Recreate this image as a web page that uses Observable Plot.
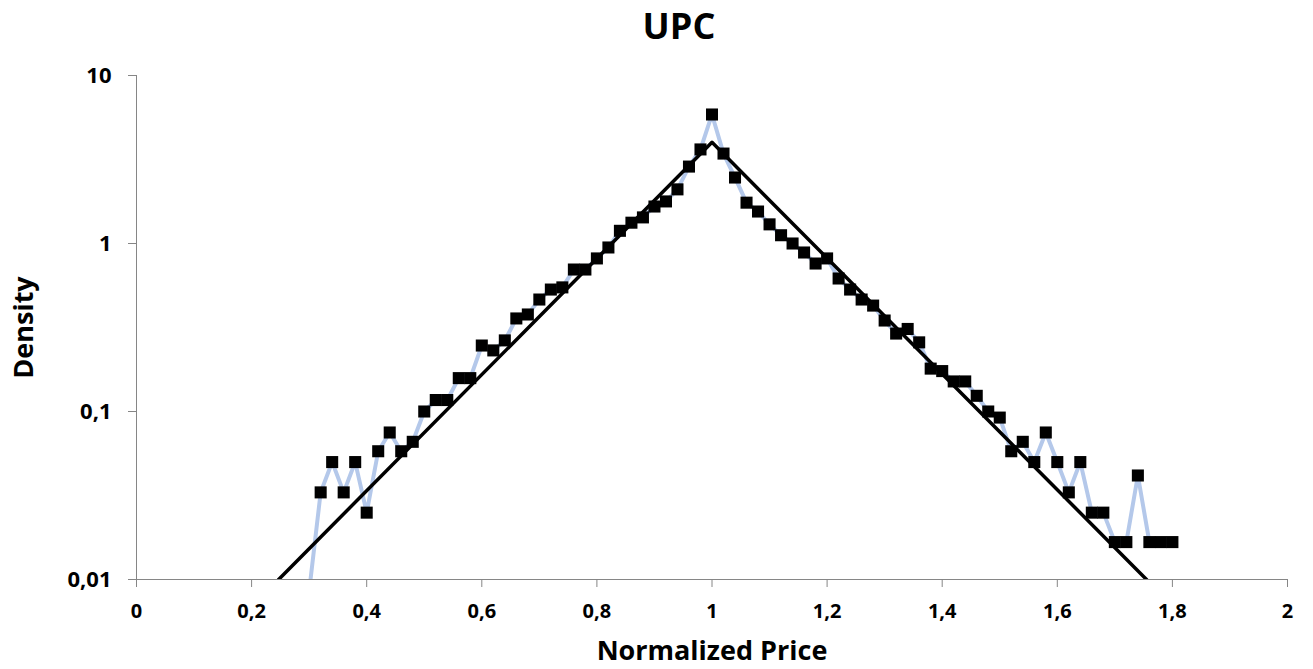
<!DOCTYPE html>
<html>
<head>
<meta charset="utf-8">
<script src="https://cdn.jsdelivr.net/npm/d3@7"></script>
<script src="https://cdn.jsdelivr.net/npm/@observablehq/plot@0.6"></script>
<style>
  html, body { margin: 0; padding: 0; background: #fff; }
  body { font-family: "Open Sans", sans-serif; }
  #wrap { position: relative; width: 1313px; height: 669px; overflow: hidden; }
  #title { position: relative; height: 60px; width: 1313px; }
  #title span { position: absolute; left: 579px; width: 200px; top: 8px; text-align: center;
    font-size: 36px; line-height: 36px; font-weight: 700; color: #000; }
</style>
</head>
<body>
<div id="wrap">
  <div id="title"><span>UPC</span></div>
  <div id="chart"></div>
</div>
<script>
// Empirical density (squares + light blue line)
const price = [0.30,0.32,0.34,0.36,0.38,0.40,0.42,0.44,0.46,0.48,0.50,0.52,0.54,0.56,0.58,0.60,0.62,0.64,0.66,0.68,
  0.70,0.72,0.74,0.76,0.78,0.80,0.82,0.84,0.86,0.88,0.90,0.92,0.94,0.96,0.98,1.00,1.02,1.04,1.06,1.08,
  1.10,1.12,1.14,1.16,1.18,1.20,1.22,1.24,1.26,1.28,1.30,1.32,1.34,1.36,1.38,1.40,1.42,1.44,1.46,1.48,
  1.50,1.52,1.54,1.56,1.58,1.60,1.62,1.64,1.66,1.68,1.70,1.72,1.74,1.76,1.78,1.80];
const density = [0.0085,0.033,0.05,0.033,0.05,0.025,0.058,0.075,0.058,0.066,0.10,0.117,0.117,0.158,0.158,0.247,0.231,0.265,0.358,0.378,
  0.464,0.532,0.548,0.70,0.70,0.815,0.947,1.19,1.33,1.43,1.66,1.78,2.10,2.87,3.63,5.86,3.43,2.47,1.75,1.55,
  1.30,1.12,1.00,0.884,0.76,0.815,0.619,0.532,0.464,0.427,0.348,0.291,0.31,0.258,0.18,0.174,0.151,0.151,0.124,0.10,
  0.092,0.058,0.066,0.05,0.075,0.05,0.033,0.05,0.025,0.025,0.0167,0.0167,0.0416,0.0167,0.0167,0.0167];

// Fitted (Laplace-like) curve: straight lines on log scale
const fitPrice = [0.247, 1.00, 1.755];
const fitDensity = [0.01, 4.0, 0.01];

// Axis ticks
const xTicks = [0, 0.2, 0.4, 0.6, 0.8, 1, 1.2, 1.4, 1.6, 1.8, 2];
const yTicks = [0.01, 0.1, 1, 10];

const data = price.map((p, i) => ({x: p, y: density[i]}));
const fit = fitPrice.map((p, i) => ({x: p, y: fitDensity[i]}));
const fmt = d => String(d).replace(".", ",");
const axisGray = "#868686";

const chart = Plot.plot({
  width: 1313,
  height: 609,
  marginTop: 15,
  marginBottom: 90,
  marginLeft: 136,
  marginRight: 26,
  style: {fontFamily: "'Open Sans', sans-serif", color: "#000", background: "#fff"},
  x: {domain: [0, 2]},
  y: {type: "log", domain: [0.01, 10]},
  marks: [
    Plot.ruleX([0], {stroke: axisGray, strokeWidth: 1}),
    Plot.ruleY([0.01], {stroke: axisGray, strokeWidth: 1}),
    Plot.axisX({ticks: xTicks, tickFormat: fmt, tickSize: 8, tickPadding: 16, fontSize: 20, fontWeight: "bold",
      stroke: axisGray, fill: "#000", label: null}),
    Plot.axisY({ticks: yTicks, tickFormat: fmt, tickSize: 8, tickPadding: 17, fontSize: 22, fontWeight: "bold",
      stroke: axisGray, fill: "#000", label: null}),
    Plot.line(data, {x: "x", y: "y", stroke: "#b4c8ea", strokeWidth: 4, clip: true}),
    Plot.line(fit, {x: "x", y: "y", stroke: "#000", strokeWidth: 3.5, clip: true}),
    Plot.dot(data, {x: "x", y: "y", symbol: "square", r: 6.8, fill: "#000", stroke: null, clip: true}),
    Plot.text(["Normalized Price"], {frameAnchor: "bottom", dy: 72, textAnchor: "middle", lineAnchor: "middle",
      fontSize: 27, fontWeight: "bold", fill: "#000"}),
    Plot.text(["Density"], {frameAnchor: "left", dx: -112, rotate: -90, textAnchor: "middle", lineAnchor: "middle",
      fontSize: 27, fontWeight: "bold", fill: "#000"})
  ]
});
document.getElementById("chart").appendChild(chart);
</script>
</body>
</html>
